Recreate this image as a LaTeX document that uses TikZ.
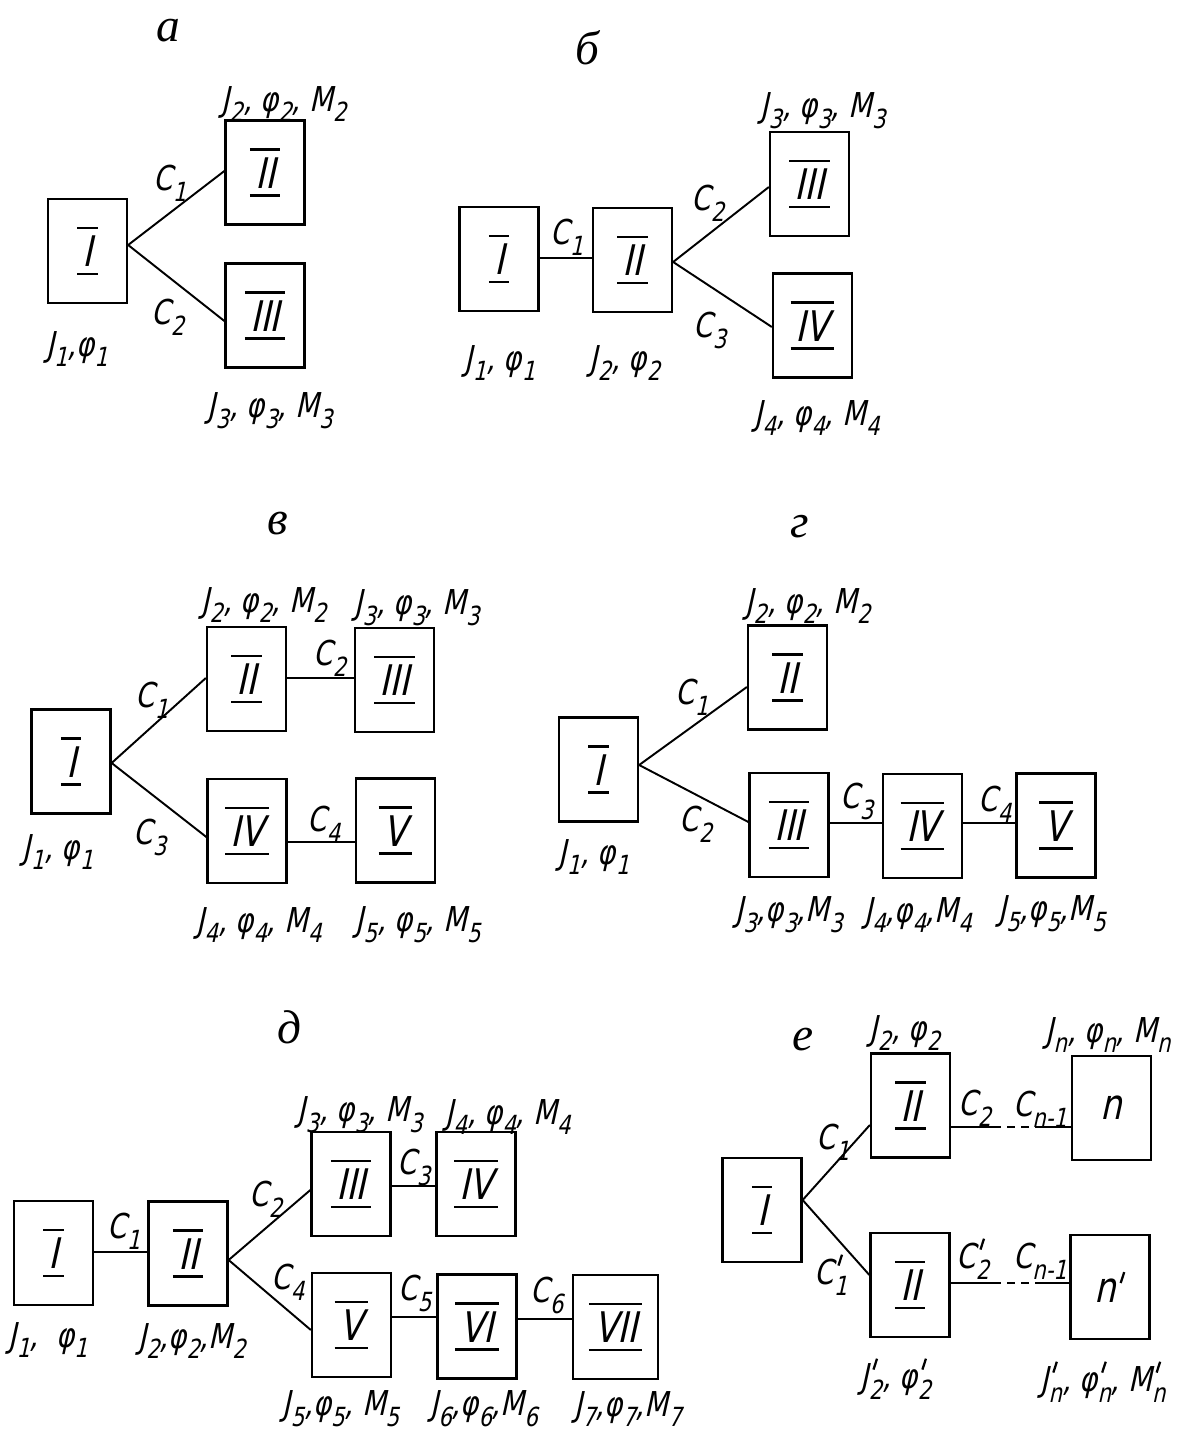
\documentclass[tikz,border=0pt]{standalone}
\usepackage{fontspec}
\usepackage{graphicx}
\usetikzlibrary{calc}
\newfontfamily\gost{DejaVu Sans}[FakeSlant=0.22, FakeStretch=0.8]
\newfontfamily\panfont{Liberation Serif}
\newcommand\prm{\rotatebox[origin=c]{-18}{\rule{1.3pt}{6.5pt}}}
\newcommand\lo[1]{\raisebox{-0.32em}{\fontsize{15}{15}\selectfont #1}}
\newcommand\lop[1]{\rlap{\raisebox{0.55em}{\kern2pt\prm}}\lo{#1}}
\newcommand\rn[1]{\vbox{\hrule height 1.4pt\kern4pt\hbox{\kern3pt#1\kern3pt}\kern3.5pt\hrule height 1.4pt}}
\tikzset{
  box/.style={draw, line width=1.3pt, minimum width=1.58cm, minimum height=2.08cm, inner sep=0pt, font=\gost\fontsize{24}{24}\selectfont},
  lab/.style={font=\gost\fontsize{19.5}{20}\selectfont, inner sep=0pt},
  pan/.style={font=\panfont\itshape\fontsize{27}{27}\selectfont, inner sep=0pt},
  link/.style={line width=1.1pt},
  dashpart/.style={line width=1.1pt, dash pattern=on 4.5pt off 3.5pt}
}
\begin{document}
\begin{tikzpicture}[x=0.02cm, y=-0.02cm]
\useasboundingbox (0,0) rectangle (1180,1436);
% ---------------- panel a
\node[pan] (pa) at (168,31) {а};
\node[box] (a1) at (87.5,251) {\rn{I}};
\node[box] (a2) at (265,172.5) {\rn{II}};
\node[box] (a3) at (265,315.5) {\rn{III}};
\draw[link] ($(a1.east)+(0,-6)$) -- ($(a2.west)+(0,-1.5)$);
\draw[link] ($(a1.east)+(0,-6)$) -- ($(a3.west)+(0,5.5)$);
\node[lab] (ac1) at (170,183) {C\lo{1}};
\node[lab] (ac2) at (168,317) {C\lo{2}};
\node[lab] (at1) at (77,349) {J\lo{1},φ\lo{1}};
\node[lab] (at2) at (284,104) {J\lo{2}, φ\lo{2}, M\lo{2}};
\node[lab] (at3) at (270,411) {J\lo{3}, φ\lo{3}, M\lo{3}};
% ---------------- panel b
\node[pan] (pb) at (587,48) {б};
\node[box] (b1) at (499,259) {\rn{I}};
\node[box] (b2) at (632.5,260) {\rn{II}};
\node[box] (b3) at (809.5,184) {\rn{III}};
\node[box] (b4) at (812.5,325.5) {\rn{IV}};
\draw[link] ($(b1.east)+(0,-1)$) -- ($(b2.west)+(0,-2)$);
\draw[link] ($(b2.east)+(0,2)$) -- ($(b3.west)+(0,3)$);
\draw[link] ($(b2.east)+(0,2)$) -- ($(b4.west)+(0,1.5)$);
\node[lab] (bc1) at (567,237) {C\lo{1}};
\node[lab] (bc2) at (708,203) {C\lo{2}};
\node[lab] (bc3) at (710,330) {C\lo{3}};
\node[lab] (bt1) at (500,363) {J\lo{1}, φ\lo{1}};
\node[lab] (bt2) at (625,363) {J\lo{2}, φ\lo{2}};
\node[lab] (bt3) at (823,111) {J\lo{3}, φ\lo{3}, M\lo{3}};
\node[lab] (bt4) at (817,418) {J\lo{4}, φ\lo{4}, M\lo{4}};
% ---------------- panel v
\node[pan] (pv) at (278,524) {в};
\node[box] (v1) at (71,761.5) {\rn{I}};
\node[box] (v2) at (246.5,679) {\rn{II}};
\node[box] (v3) at (394.5,680) {\rn{III}};
\node[box] (v4) at (247,831) {\rn{IV}};
\node[box] (v5) at (395.5,830.5) {\rn{V}};
\draw[link] ($(v1.east)+(0,1.5)$) -- ($(v2.west)+(0,-1)$);
\draw[link] ($(v1.east)+(0,1.5)$) -- ($(v4.west)+(0,6)$);
\draw[link] ($(v2.east)+(0,-1)$) -- ($(v3.west)+(0,-2)$);
\draw[link] ($(v4.east)+(0,11)$) -- ($(v5.west)+(0,11.5)$);
\node[lab] (vc1) at (152,700) {C\lo{1}};
\node[lab] (vc2) at (330,658) {C\lo{2}};
\node[lab] (vc3) at (150,837) {C\lo{3}};
\node[lab] (vc4) at (324,824) {C\lo{4}};
\node[lab] (vt1) at (58,852) {J\lo{1}, φ\lo{1}};
\node[lab] (vt2) at (264,605) {J\lo{2}, φ\lo{2}, M\lo{2}};
\node[lab] (vt3) at (417,608) {J\lo{3}, φ\lo{3}, M\lo{3}};
\node[lab] (vt4) at (259,925) {J\lo{4}, φ\lo{4}, M\lo{4}};
\node[lab] (vt5) at (418,925) {J\lo{5}, φ\lo{5}, M\lo{5}};
% ---------------- panel g
\node[pan] (pg) at (800,527) {г};
\node[box] (g1) at (598.5,769.5) {\rn{I}};
\node[box] (g2) at (787.5,677.5) {\rn{II}};
\node[box] (g3) at (789,825) {\rn{III}};
\node[box] (g4) at (922.5,826) {\rn{IV}};
\node[box] (g5) at (1056,825.5) {\rn{V}};
\draw[link] ($(g1.east)+(0,-4.5)$) -- ($(g2.west)+(0,9.5)$);
\draw[link] ($(g1.east)+(0,-4.5)$) -- ($(g3.west)+(0,-3)$);
\draw[link] ($(g3.east)+(0,-2)$) -- ($(g4.west)+(0,-3)$);
\draw[link] ($(g4.east)+(0,-3)$) -- ($(g5.west)+(0,-2.5)$);
\node[lab] (gc1) at (692,697) {C\lo{1}};
\node[lab] (gc2) at (696,824) {C\lo{2}};
\node[lab] (gc3) at (857,801) {C\lo{3}};
\node[lab] (gc4) at (995,804) {C\lo{4}};
\node[lab] (gt1) at (594,857) {J\lo{1}, φ\lo{1}};
\node[lab] (gt2) at (808,606) {J\lo{2}, φ\lo{2}, M\lo{2}};
\node[lab] (gt3) at (789,915) {J\lo{3},φ\lo{3},M\lo{3}};
\node[lab] (gt4) at (918,915) {J\lo{4},φ\lo{4},M\lo{4}};
\node[lab] (gt5) at (1052,914) {J\lo{5},φ\lo{5},M\lo{5}};
% ---------------- panel d
\node[pan] (pd) at (289,1027) {д};
\node[box] (d1) at (53.5,1253) {\rn{I}};
\node[box] (d2) at (188,1253.5) {\rn{II}};
\node[box] (d3) at (351,1184) {\rn{III}};
\node[box] (d4) at (476,1184) {\rn{IV}};
\node[box] (d5) at (351.5,1325) {\rn{V}};
\node[box] (d6) at (477,1326.5) {\rn{VI}};
\node[box, minimum width=1.7cm] (d7) at (615.5,1327) {\rn{VII}};
\draw[link] ($(d1.east)+(0,-1)$) -- ($(d2.west)+(0,-1.5)$);
\draw[link] ($(d2.east)+(0,6.5)$) -- ($(d3.west)+(0,6)$);
\draw[link] ($(d2.east)+(0,6.5)$) -- ($(d5.west)+(0,5)$);
\draw[link] ($(d3.east)+(0,2)$) -- ($(d4.west)+(0,2)$);
\draw[link] ($(d5.east)+(0,-8)$) -- ($(d6.west)+(0,-9.5)$);
\draw[link] ($(d6.east)+(0,-7.5)$) -- ($(d7.west)+(0,-8)$);
\node[lab] (dc1) at (124,1231) {C\lo{1}};
\node[lab] (dc2) at (266,1199) {C\lo{2}};
\node[lab] (dc3) at (414,1167) {C\lo{3}};
\node[lab] (dc4) at (288,1282) {C\lo{4}};
\node[lab] (dc5) at (415,1293) {C\lo{5}};
\node[lab] (dc6) at (547,1295) {C\lo{6}};
\node[lab] (dt1) at (48,1340) {J\lo{1}, \ φ\lo{1}};
\node[lab] (dt2) at (192,1341) {J\lo{2},φ\lo{2},M\lo{2}};
\node[lab] (dt3) at (360,1115) {J\lo{3}, φ\lo{3}, M\lo{3}};
\node[lab] (dt4) at (508,1117) {J\lo{4}, φ\lo{4}, M\lo{4}};
\node[lab] (dt5) at (341,1409) {J\lo{5},φ\lo{5}, M\lo{5}};
\node[lab] (dt6) at (484,1409) {J\lo{6},φ\lo{6},M\lo{6}};
\node[lab] (dt7) at (628,1409) {J\lo{7},φ\lo{7},M\lo{7}};
% ---------------- panel e
\node[pan] (pe) at (803,1040) {е};
\node[box] (e1) at (762,1210) {\rn{I}};
\node[box] (e2) at (910.5,1105.5) {\rn{II}};
\node[box] (e3) at (910,1285) {\rn{II}};
\node[box] (en) at (1111.5,1108) {n};
\node[box] (enp) at (1110,1287) {n\kern2pt\raisebox{0.45em}{\prm}};
\draw[link] ($(e1.east)+(0,-10)$) -- ($(e2.west)+(0,19.5)$);
\draw[link] ($(e1.east)+(0,-10)$) -- ($(e3.west)+(0,-10)$);
\coordinate (ea) at (993,1127);
\coordinate (eb) at (1043,1127);
\coordinate (ec) at (993,1283);
\coordinate (ed) at (1043,1283);
\draw[link] (e2.east |- ea) -- (ea);
\draw[dashpart] (ea) -- (eb);
\draw[link] (eb) -- (en.west |- eb);
\draw[link] (e3.east |- ec) -- (ec);
\draw[dashpart] (ec) -- (ed);
\draw[link] (ed) -- (enp.west |- ed);
\node[lab] (ec1) at (833,1142) {C\lo{1}};
\node[lab] (ec1p) at (831,1275) {C\lop{1}};
\node[lab] (ec2) at (975,1108) {C\lo{2}};
\node[lab] (ec2p) at (973,1259) {C\lop{2}};
\node[lab] (ecn) at (1040,1109) {C\lo{n-1}};
\node[lab] (ecnp) at (1040,1261) {C\lo{n-1}};
\node[lab] (et2) at (905,1033) {J\lo{2}, φ\lo{2}};
\node[lab] (etn) at (1108,1035) {J\lo{n}, φ\lo{n}, M\lo{n}};
\node[lab] (et2p) at (896,1379) {J\lop{2}, φ\lop{2}};
\node[lab] (etnp) at (1103,1382) {J\lop{n}, φ\lop{n}, M\lop{n}};
\end{tikzpicture}
\end{document}
